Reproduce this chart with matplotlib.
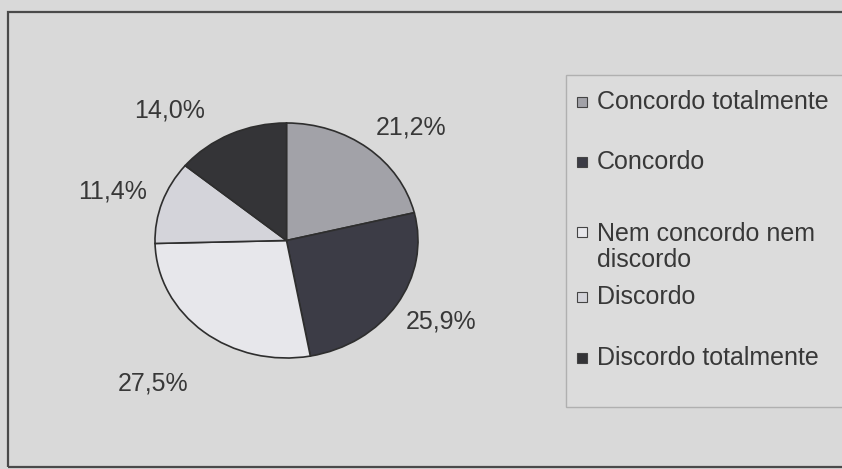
import matplotlib
matplotlib.use("Agg")
import matplotlib.pyplot as plt
from matplotlib.patches import Rectangle

categories = ["Concordo totalmente", "Concordo", "Nem concordo nem\ndiscordo",
              "Discordo", "Discordo totalmente"]
values = [21.2, 25.9, 27.5, 11.4, 14.0]
value_labels = ["21,2%", "25,9%", "27,5%", "11,4%", "14,0%"]
colors = ["#a2a2a8", "#3c3c46", "#e7e7eb", "#d4d4da", "#343437"]

W, H = 842, 469
FS = 18
plt.rcParams['font.family'] = ['Liberation Sans', 'DejaVu Sans']
fig = plt.figure(figsize=(W / 100, H / 100), dpi=100)
bg = "#d9d9d9"
fig.patch.set_facecolor(bg)

# outer chart border
fig.patches.append(Rectangle((8 / W, 1 - 467 / H), 840 / W, 455 / H,
                             transform=fig.transFigure, fill=False,
                             edgecolor="#4a4a4a", linewidth=1.6))

# pie axes (slightly elliptical as in the reference)
px0, py0, px1, py1 = 155, 123, 418, 358
ax = fig.add_axes([px0 / W, 1 - py1 / H, (px1 - px0) / W, (py1 - py0) / H])
wedges, texts = ax.pie(values, colors=colors, startangle=90, counterclock=False,
                       labels=value_labels, labeldistance=1.25,
                       wedgeprops=dict(edgecolor="#2e2e2e", linewidth=1.2),
                       textprops=dict(fontsize=FS, color="#383838"))
ax.set_aspect("auto")
ax.set_xlim(-1, 1)
ax.set_ylim(-1, 1)
ax.set_facecolor("none")

label_pos = [(0.948, 0.96), (1.175, -0.693), (-1.015, -1.213),
             (-1.319, 0.413), (-0.886, 1.11)]
for t, (x, y) in zip(texts, label_pos):
    t.set_position((x, y))
    t.set_ha("center")
    t.set_va("center")

# legend box
fig.patches.append(Rectangle((566 / W, 1 - 407 / H), 280 / W, 332 / H,
                             transform=fig.transFigure, facecolor="#dcdcdc",
                             edgecolor="#b0b0b0", linewidth=1.0))
entry_y = [102, 162, 247, 297, 358]
for cat, col, y in zip(categories, colors, entry_y):
    lines = cat.count("\n") + 1
    sq_y = y - (lines - 1) * 15
    fig.patches.append(Rectangle((577 / W, 1 - (sq_y + 5) / H), 10 / W, 10 / H,
                                 transform=fig.transFigure, facecolor=col,
                                 edgecolor="#444444", linewidth=0.8))
    fig.text(597 / W, 1 - y / H, cat, ha="left", va="center", fontsize=FS,
             color="#383838", linespacing=1.12)

fig.savefig("out.png", dpi=100, facecolor=bg)
